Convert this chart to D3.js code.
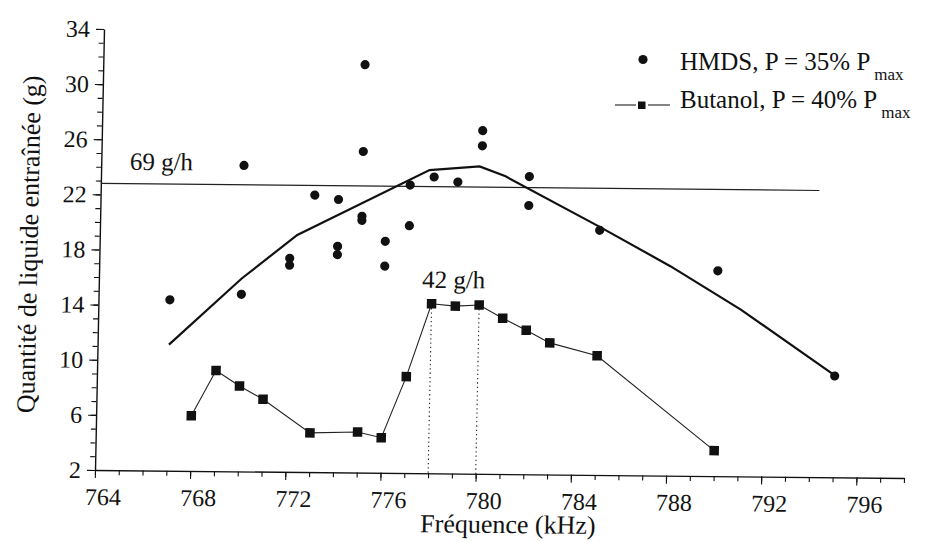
<!DOCTYPE html>
<html>
<head>
<meta charset="utf-8">
<script src="https://cdn.jsdelivr.net/npm/d3@7"></script>
<style>
  body { margin: 0; background: #fff; }
  svg text { font-family: "Liberation Serif", "Times New Roman", Times, "DejaVu Serif", serif !important; fill: #111; }
</style>
</head>
<body>
<svg id="chart" width="926" height="542"></svg>
<script>
// HMDS measurements (P = 35% Pmax): frequency (kHz) and entrained liquid (g)
const hmdsFreq = [767, 770, 770, 772, 772, 773, 774, 774, 774, 775, 775, 775, 775,
                  776, 776, 777, 777, 778, 779, 780, 780, 782, 782, 785, 790, 795];
const hmdsQty  = [14.4, 14.85, 24.2, 17.5, 17.0, 22.1, 21.8, 18.4, 17.8, 31.6, 25.3, 20.6, 20.3,
                  18.8, 17.0, 22.9, 19.95, 23.5, 23.15, 26.9, 25.8, 23.6, 21.5, 19.75, 16.9, 9.35];

// Trend curve through the HMDS cloud
const fitFreq = [767, 770, 772.3, 777.8, 779.9, 781, 785, 788, 791, 795];
const fitQty  = [11.15, 16.0, 19.2, 24.0, 24.3, 23.6, 20.0, 17.2, 14.1, 9.4];

// Butanol measurements (P = 40% Pmax)
const butFreq = [768, 769, 770, 771, 773, 775, 776, 777, 778, 779, 780, 781, 782, 783, 785, 790];
const butQty  = [6.0, 9.3, 8.2, 7.25, 4.85, 4.95, 4.55, 9.0, 14.3, 14.15, 14.25, 13.3, 12.45, 11.55, 10.65, 3.85];

// Reference level (69 g/h) and the butanol plateau bounds (42 g/h)
const level69Qty = 22.8;
const level69Span = [764, 794.2];
const plateauFreqs = [778, 780];

// Axis ticks
const xTicks = [764, 768, 772, 776, 780, 784, 788, 792, 796];
const yTicks = [2, 6, 10, 14, 18, 22, 26, 30, 34];
const xDomain = [764, 798];
const yDomain = [2, 34];

const W = 809, H = 441;
const serif = '"Liberation Serif", "Times New Roman", Times, "DejaVu Serif", serif';
const svg = d3.select("#chart");

// Plot frame, slightly sheared as on the printed page
const g = svg.append("g").attr("transform", "matrix(1,0.0099,-0.0204,1,104,29)");

const x = d3.scaleLinear().domain(xDomain).range([0, W]);
const y = d3.scaleLinear().domain(yDomain).range([H, 0]);

// X axis: minor ticks every kHz, labelled ticks every 4 kHz
g.append("g").attr("transform", `translate(0,${H})`)
  .call(d3.axisBottom(x).tickValues(d3.range(764, 799)).tickSize(5).tickFormat(""))
  .call(a => a.select(".domain").remove());
const xa = g.append("g").attr("transform", `translate(0,${H})`)
  .call(d3.axisBottom(x).tickValues(xTicks).tickSize(8).tickSizeOuter(0).tickPadding(10).tickFormat(d3.format("d")));
xa.attr("font-family", serif).attr("font-size", 24);
xa.selectAll("text").attr("dx", 8).attr("fill", "#111");

// Y axis: minor ticks every unit, labelled ticks every 4
g.append("g")
  .call(d3.axisLeft(y).tickValues(d3.range(2, 35)).tickSize(5).tickFormat(""))
  .call(a => a.select(".domain").remove());
const ya = g.append("g")
  .call(d3.axisLeft(y).tickValues(yTicks).tickSize(8).tickSizeOuter(0).tickPadding(6).tickFormat(d3.format("d")));
ya.attr("font-family", serif).attr("font-size", 24);
ya.selectAll("text").attr("fill", "#111");

g.selectAll(".domain").attr("stroke", "#111").attr("stroke-width", 1.4);
g.selectAll(".tick line").attr("stroke", "#111").attr("stroke-width", 1.1);

// 69 g/h reference line
g.append("line")
  .attr("x1", x(level69Span[0])).attr("x2", x(level69Span[1]))
  .attr("y1", y(level69Qty)).attr("y2", y(level69Qty))
  .attr("stroke", "#222").attr("stroke-width", 1.1);
g.append("text").attr("x", x(765.2)).attr("y", y(23.8))
  .attr("font-family", serif).attr("font-size", 25).text("69 g/h");

// Dotted drops bounding the butanol plateau
g.selectAll(".drop").data(plateauFreqs).enter().append("line")
  .attr("class", "drop")
  .attr("x1", d => x(d)).attr("x2", d => x(d))
  .attr("y1", d => y(butQty[butFreq.indexOf(d)])).attr("y2", y(yDomain[0]))
  .attr("stroke", "#222").attr("stroke-width", 1.1).attr("stroke-dasharray", "1.3,3");
g.append("text").attr("x", x(777.58)).attr("y", y(15.45))
  .attr("font-family", serif).attr("font-size", 25).text("42 g/h");

// HMDS trend curve
const fitLine = d3.line().x(d => x(d[0])).y(d => y(d[1]));
g.append("path").datum(fitFreq.map((f, i) => [f, fitQty[i]]))
  .attr("d", fitLine).attr("fill", "none").attr("stroke", "#111").attr("stroke-width", 2.2);

// HMDS points
g.selectAll(".hmds").data(hmdsFreq.map((f, i) => [f, hmdsQty[i]])).enter().append("circle")
  .attr("class", "hmds").attr("cx", d => x(d[0])).attr("cy", d => y(d[1])).attr("r", 4.6)
  .attr("fill", "#111");

// Butanol line and squares
const butData = butFreq.map((f, i) => [f, butQty[i]]);
g.append("path").datum(butData).attr("d", fitLine)
  .attr("fill", "none").attr("stroke", "#222").attr("stroke-width", 1.1);
const sq = 9.5;
g.selectAll(".but").data(butData).enter().append("rect")
  .attr("class", "but")
  .attr("x", d => x(d[0]) - sq / 2).attr("y", d => y(d[1]) - sq / 2)
  .attr("width", sq).attr("height", sq).attr("fill", "#111");

// Axis titles
g.append("text").attr("x", 414).attr("y", 500).attr("text-anchor", "middle")
  .attr("font-family", serif).attr("font-size", 26).text("Fréquence (kHz)");
g.append("text").attr("transform", "translate(-62,216) rotate(-90)").attr("text-anchor", "middle")
  .attr("font-family", serif).attr("font-size", 26).text("Quantité de liquide entraînée (g)");

// Legend
const lg = svg.append("g").attr("font-family", serif);
lg.append("circle").attr("cx", 643).attr("cy", 59.5).attr("r", 4.6).attr("fill", "#111");
const t1 = lg.append("text").attr("x", 680).attr("y", 70).attr("font-size", 25);
t1.append("tspan").text("HMDS, P = 35% P");
t1.append("tspan").attr("dx", 4).attr("dy", 10).attr("font-size", 17).text("max");

lg.append("line").attr("x1", 615).attr("x2", 636).attr("y1", 105).attr("y2", 105)
  .attr("stroke", "#222").attr("stroke-width", 1.1);
lg.append("line").attr("x1", 648).attr("x2", 670).attr("y1", 105).attr("y2", 105)
  .attr("stroke", "#222").attr("stroke-width", 1.1);
lg.append("rect").attr("x", 638).attr("y", 101.5).attr("width", 7.5).attr("height", 7.5).attr("fill", "#111");
const t2 = lg.append("text").attr("x", 680).attr("y", 108).attr("font-size", 25);
t2.append("tspan").text("Butanol, P = 40% P");
t2.append("tspan").attr("dx", 4).attr("dy", 10).attr("font-size", 17).text("max");
</script>
</body>
</html>
